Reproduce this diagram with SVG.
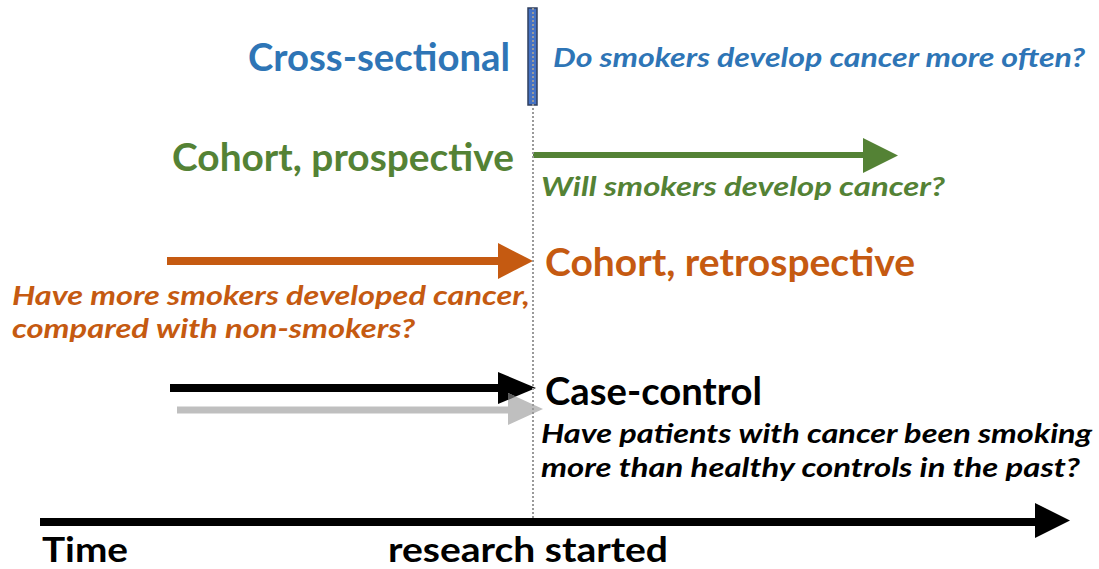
<svg xmlns="http://www.w3.org/2000/svg" width="1099" height="569" viewBox="0 0 1099 569">
  <style>
    .head { font-family: Lato, "Open Sans", sans-serif; font-weight: 700; font-size: 39px; }
    .axis { font-family: Lato, "Open Sans", sans-serif; font-weight: 700; font-size: 35px; }
    .q { font-family: Lato, "Open Sans", sans-serif; font-weight: 700; font-style: italic; font-size: 27px; }
    .blue { fill: #2E75B6; }
    .green { fill: #548235; }
    .orange { fill: #C55A11; }
    .black { fill: #000000; }
  </style>
  <rect width="1099" height="569" fill="#ffffff"/>

  <!-- marker of the moment the research starts -->
  <g id="start-marker">
    <rect x="528" y="8" width="9" height="97" fill="#4472C4" stroke="#2F3F5F" stroke-width="1.5"/>
  </g>

  <g id="connectors">
    <!-- prospective cohort: forward in time -->
    <line x1="533" y1="155" x2="866" y2="155" stroke="#548235" stroke-width="6"/>
    <polygon points="863,138 898,155.5 863,173" fill="#548235"/>
    <!-- retrospective cohort: from the past up to now -->
    <line x1="167" y1="261" x2="502" y2="261" stroke="#C55A11" stroke-width="8"/>
    <polygon points="498,243 533,261 498,279" fill="#C55A11"/>
    <!-- case-control: exposure (black) and outcome (grey) -->
    <line x1="170" y1="388" x2="502" y2="388" stroke="#000000" stroke-width="8"/>
    <polygon points="498,372 536,388 498,404" fill="#000000"/>
    <line x1="177" y1="410" x2="512" y2="410" stroke="#BFBFBF" stroke-width="7"/>
    <polygon points="508,393 543,409 508,425" fill="#BFBFBF"/>
    <polygon points="508,393 516,396.6 508,400" fill="#5a5a5a"/>
    <!-- time axis -->
    <line x1="40" y1="522" x2="1038" y2="522" stroke="#000000" stroke-width="8"/>
    <polygon points="1035,503 1070,520.5 1035,538" fill="#000000"/>
    <!-- research start line -->
    <line x1="533" y1="8" x2="533" y2="520" stroke="#9a9a9a" stroke-width="2" stroke-dasharray="2 2"/>
  </g>

  <g id="cross-sectional">
    <text class="head blue" x="248" y="71" textLength="262" lengthAdjust="spacingAndGlyphs">Cross-sectional</text>
    <text class="q blue" x="553" y="67" textLength="532" lengthAdjust="spacingAndGlyphs">Do smokers develop cancer more often?</text>
  </g>

  <g id="cohort-prospective">
    <text class="head green" x="172" y="171" textLength="342" lengthAdjust="spacingAndGlyphs">Cohort, prospective</text>
    <text class="q green" x="541" y="196" textLength="404" lengthAdjust="spacingAndGlyphs">Will smokers develop cancer?</text>
  </g>

  <g id="cohort-retrospective">
    <text class="head orange" x="545" y="276" textLength="370" lengthAdjust="spacingAndGlyphs">Cohort, retrospective</text>
    <text class="q orange" x="12" y="305" textLength="518" lengthAdjust="spacingAndGlyphs">Have more smokers developed cancer,</text>
    <text class="q orange" x="12" y="338" textLength="403" lengthAdjust="spacingAndGlyphs">compared with non-smokers?</text>
  </g>

  <g id="case-control">
    <text class="head black" x="545" y="405" textLength="217" lengthAdjust="spacingAndGlyphs">Case-control</text>
    <text class="q black" x="541" y="443" textLength="551" lengthAdjust="spacingAndGlyphs">Have patients with cancer been smoking</text>
    <text class="q black" x="541" y="477" textLength="539" lengthAdjust="spacingAndGlyphs">more than healthy controls in the past?</text>
  </g>

  <g id="axis-labels">
    <text class="axis black" x="42" y="562" textLength="86" lengthAdjust="spacingAndGlyphs">Time</text>
    <text class="axis black" x="388" y="562" textLength="280" lengthAdjust="spacingAndGlyphs">research started</text>
  </g>
</svg>
